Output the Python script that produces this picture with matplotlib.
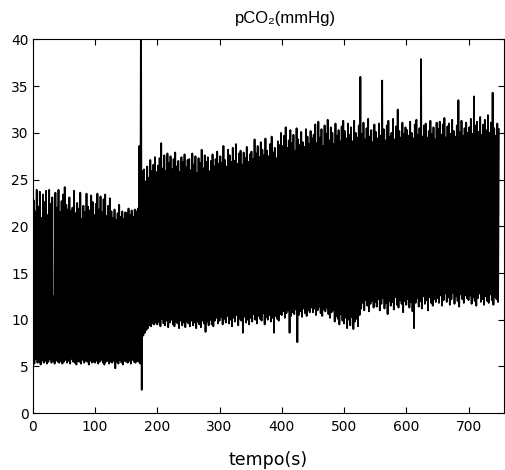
import numpy as np
import matplotlib
matplotlib.use("Agg")
import matplotlib.pyplot as plt

plt.rcParams['font.family'] = ['DejaVu Sans']

# one breath every 2.5 s: trough at t, peak at t + 1.25
dt = 2.5

# baseline phase, 0-175 s (last two cycles: jump and artefact spike)
peaks_baseline = [22.8, 21.6, 23.9, 22.1, 23.7, 20.9, 23.4, 22.6, 23.8, 21.2,
                  23.9, 22.4, 23.1, 12.5, 23.6, 22.0, 23.9, 21.5, 22.7, 23.4,
                  24.2, 22.3, 21.8, 23.1, 21.6, 22.0, 23.8, 21.4, 22.5, 21.9,
                  23.6, 20.8, 22.2, 21.5, 23.5, 22.1, 21.7, 23.3, 22.6, 21.2,
                  22.4, 23.5, 21.8, 23.2, 21.5, 22.9, 23.4, 21.1, 22.2, 23.0,
                  21.6, 20.9, 21.8, 20.7, 21.4, 22.3, 21.0, 21.6, 20.8, 21.5,
                  21.4, 21.9, 21.2, 21.7, 21.0, 21.8, 21.6, 21.9, 28.6, 45.0]
troughs_baseline = [5.6, 5.3, 5.8, 5.4, 5.5, 5.2, 5.7, 5.4, 5.6, 5.3,
                    5.5, 5.8, 5.4, 5.6, 5.3, 5.7, 5.5, 5.4, 5.6, 5.3,
                    5.5, 5.7, 5.4, 5.6, 5.3, 5.8, 5.5, 5.4, 5.2, 5.6,
                    5.5, 5.3, 5.7, 5.4, 5.6, 5.5, 5.2, 5.6, 5.4, 5.5,
                    5.4, 5.6, 5.3, 5.5, 5.7, 5.4, 5.2, 5.5, 5.6, 5.3,
                    5.5, 5.4, 5.6, 4.8, 5.5, 5.3, 5.7, 5.4, 5.2, 5.6,
                    5.5, 5.4, 5.6, 5.3, 5.7, 5.5, 5.4, 5.6, 5.5, 5.3]

# middle phase, 175-450 s
peaks_mid = [25.9, 26.1, 24.8, 26.4, 25.2, 27.1, 25.9, 26.6, 27.4, 25.8,
             26.5, 27.3, 28.9, 26.2, 27.6, 25.9, 27.8, 26.8, 27.5, 26.1,
             27.2, 27.9, 26.4, 27.0, 25.8, 27.4, 26.9, 27.7, 26.3, 27.1,
             27.2, 26.0, 27.8, 26.6, 27.5, 25.7, 27.3, 26.8, 28.2, 26.2,
             27.6, 26.9, 27.4, 25.9, 27.0, 27.7, 26.4, 27.2, 28.0, 26.7,
             27.5, 26.8, 28.6, 27.1, 26.4, 28.2, 27.6, 26.9, 28.4, 27.0,
             28.8, 26.7, 27.8, 28.1, 26.6, 27.9, 27.3, 28.5, 26.9, 27.7,
             28.0, 27.2, 29.3, 27.8, 28.6, 27.4, 29.0, 28.2, 27.6, 29.4,
             28.1, 27.5, 28.8, 29.6, 27.9, 28.4, 27.3, 29.1, 28.7, 30.0,
             28.6, 29.7, 30.6, 28.4, 29.2, 30.3, 28.9, 29.8, 28.1, 30.5,
             29.3, 28.7, 30.1, 29.0, 28.5, 30.4, 29.6, 28.8, 30.2, 29.4]
troughs_mid = [2.5, 8.3, 8.6, 8.9, 9.1, 9.4, 9.3, 9.6, 9.5, 9.7,
               9.5, 9.8, 9.3, 10.1, 9.6, 9.4, 9.9, 9.2, 9.7, 10.0,
               9.5, 9.3, 9.8, 9.6, 9.1, 9.9, 9.4, 9.7, 9.2, 9.8,
               9.6, 9.3, 9.9, 9.4, 9.7, 9.1, 9.8, 9.5, 9.2, 9.9,
               9.6, 8.7, 9.8, 9.4, 10.0, 9.5, 9.3, 9.9, 10.2, 9.6,
               9.9, 10.3, 9.5, 10.1, 9.7, 10.4, 9.6, 10.0, 9.3, 10.2,
               9.8, 10.5, 9.4, 10.1, 9.9, 8.6, 10.3, 9.7, 10.0, 9.5,
               10.2, 9.8, 10.6, 10.0, 9.6, 10.4, 10.1, 9.9, 10.7, 9.5,
               10.3, 10.0, 10.5, 9.8, 10.2, 8.6, 10.4, 10.1, 9.9, 10.6,
               10.5, 10.9, 10.2, 10.7, 11.0, 8.6, 10.4, 10.8, 10.6, 11.1,
               7.6, 10.5, 10.9, 10.3, 11.2, 10.7, 10.4, 11.0, 10.8, 11.3]

# late phase, 450-750 s
peaks_late = [29.8, 30.9, 28.9, 31.2, 29.5, 30.4, 28.6, 30.8, 29.9, 31.4,
              29.2, 30.6, 30.0, 28.8, 31.0, 29.7, 30.3, 29.1, 30.7, 31.3,
              30.2, 29.4, 31.0, 29.8, 30.6, 29.1, 31.3, 30.0, 29.5, 30.8,
              36.0, 29.9, 31.1, 29.3, 30.5, 31.5, 29.6, 30.3, 29.0, 30.9,
              30.1, 29.4, 31.0, 29.7, 35.6, 30.4, 29.2, 30.8, 31.3, 29.6,
              30.0, 31.5, 29.3, 30.7, 32.5, 30.2, 29.5, 31.1, 29.9, 30.6,
              30.3, 29.7, 31.2, 30.0, 29.4, 30.9, 31.4, 29.8, 30.5, 37.9,
              29.6, 30.8, 31.0, 29.5, 30.2, 31.3, 29.9, 30.6, 29.3, 31.1,
              30.4, 31.2, 29.8, 30.9, 31.6, 29.5, 30.7, 31.0, 29.9, 31.4,
              30.2, 29.6, 30.8, 33.5, 30.1, 31.3, 29.7, 30.5, 31.1, 30.0,
              30.6, 31.5, 29.9, 33.9, 30.8, 31.2, 30.1, 31.7, 29.8, 30.9,
              31.4, 30.3, 31.9, 30.0, 31.1, 34.3, 30.5, 29.7, 31.0, 30.4]
troughs_late = [10.8, 11.2, 10.5, 11.0, 11.4, 10.7, 10.4, 11.1, 10.9, 11.3,
                10.6, 10.2, 10.8, 11.0, 9.8, 10.4, 10.1, 9.5, 10.6, 9.9,
                9.6, 10.2, 9.1, 10.0, 9.4, 10.3, 9.0, 9.8, 10.1, 9.3,
                10.5, 11.2, 11.8, 11.0, 12.1, 11.5, 10.9, 11.7, 12.0, 11.3,
                11.9, 11.4, 12.2, 11.0, 11.7, 12.3, 11.2, 11.8, 10.6, 12.0,
                11.5, 11.9, 11.1, 12.4, 11.6, 11.3, 12.1, 11.7, 10.8, 12.0,
                11.6, 12.2, 11.3, 11.9, 10.9, 9.1, 11.8, 12.3, 11.4, 12.0,
                11.2, 12.5, 11.7, 12.1, 11.0, 12.4, 11.8, 11.5, 12.2, 11.9,
                12.3, 11.8, 12.6, 11.5, 12.1, 12.8, 11.9, 12.4, 11.6, 12.2,
                12.9, 11.7, 12.5, 12.0, 11.4, 12.7, 12.2, 11.8, 12.6, 12.3,
                12.1, 12.6, 11.7, 12.4, 12.0, 11.5, 12.3, 12.8, 11.9, 12.2,
                11.6, 12.5, 12.0, 11.8, 12.7, 12.1, 11.6, 12.4, 12.2, 11.9]

peaks = np.array(peaks_baseline + peaks_mid + peaks_late)
troughs = np.array(troughs_baseline + troughs_mid + troughs_late)

# interleave trough / peak samples
signal = np.empty(2 * len(peaks))
signal[0::2] = troughs
signal[1::2] = peaks
tempo = np.arange(len(signal)) * dt / 2

fig = plt.figure(figsize=(5.05, 4.70), dpi=100)
ax = fig.add_axes([0.065, 0.121, 0.933, 0.795])
ax.plot(tempo, signal, color='black', lw=1.3)

ax.set_xlim(0, 757)
ax.set_ylim(0, 40)
ax.set_xticks(np.arange(0, 701, 100))
ax.set_yticks(np.arange(0, 41, 5))
ax.tick_params(direction='in', length=4, width=0.8, labelsize=10,
               top=True, right=True, pad=5)
ax.tick_params(axis='y', pad=3)
for s in ax.spines.values():
    s.set_linewidth(0.8)

# title sits a little right of centre in the original
ax.set_title('pCO₂(mmHg)', fontsize=12, pad=12, x=0.537,
             family=['Liberation Sans', 'DejaVu Sans'])
ax.set_xlabel('tempo(s)', fontsize=12.5, labelpad=12)

fig.savefig('out.png', dpi=100)
